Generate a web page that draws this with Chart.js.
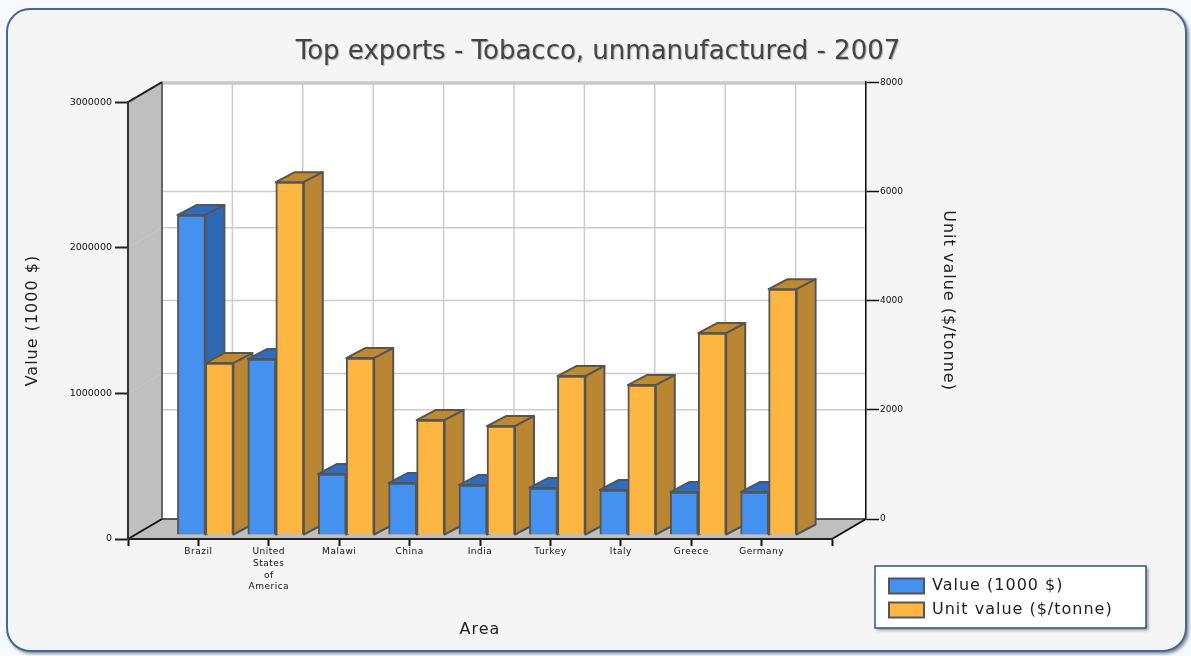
<!DOCTYPE html>
<html>
<head>
<meta charset="utf-8">
<title>Top exports</title>
<script src="https://cdn.jsdelivr.net/npm/chart.js@4"></script>
<style>
  html, body { margin: 0; padding: 0; background: #f6f9fd; }
  #page { position: relative; width: 1191px; height: 656px; overflow: hidden; }
  #card {
    position: absolute; left: 6px; top: 8px; width: 1177px; height: 640px;
    background: #f5f5f5; border: 2px solid #48688f; border-radius: 24px;
    box-shadow: 2px 2px 3px rgba(60, 80, 110, 0.6);
  }
  canvas { position: absolute; left: 0; top: 0; filter: blur(0.3px); }
</style>
</head>
<body>
<div id="page">
  <div id="card"></div>
  <canvas id="chart" width="1191" height="656"></canvas>
</div>
<script>
// the axis runs 0..10 with labels on the ticks, so first and last stay blank
var categories = ['', 'Brazil', ['United', 'States', 'of', 'America'], 'Malawi', 'China', 'India', 'Turkey', 'Italy', 'Greece', 'Germany', ''];
var valueSeries = [null, 2197000, 1208000, 419000, 357000, 343000, 323000, 309000, 295000, 295000, null];
var unitValueSeries = [null, 3149, 6462, 3240, 2105, 1995, 2911, 2746, 3698, 4503, null];

var font = 'DejaVu Sans';

// depth of the box and of the bars, in pixels
var wallDx = 34, wallDy = -20;
var barDx = 19, barDy = -10;
var barShiftX = 7, barShiftY = -4;

function poly(ctx, pts, fill, stroke, lw) {
    ctx.beginPath();
    ctx.moveTo(pts[0][0], pts[0][1]);
    for (var i = 1; i < pts.length; i++) ctx.lineTo(pts[i][0], pts[i][1]);
    ctx.closePath();
    if (fill) { ctx.fillStyle = fill; ctx.fill(); }
    if (stroke) { ctx.strokeStyle = stroke; ctx.lineWidth = lw; ctx.stroke(); }
}

function line(ctx, x1, y1, x2, y2, color, lw) {
    ctx.beginPath();
    ctx.moveTo(x1, y1);
    ctx.lineTo(x2, y2);
    ctx.strokeStyle = color;
    ctx.lineWidth = lw;
    ctx.stroke();
}

// the original text is wider than DejaVu at the same height
function spaced(chart, obj, name, px) {
    var orig = obj[name];
    obj[name] = function() {
        chart.ctx.save();
        chart.ctx.letterSpacing = px;
        orig.apply(obj, arguments);
        chart.ctx.restore();
    };
}

var box3d = {
    id: 'box3d',
    afterLayout: function(chart) {
        // right axis lives on the back wall
        var y1 = chart.scales.y1;
        y1.left += wallDx; y1.right += wallDx;
        y1.top += wallDy; y1.bottom += wallDy;
        y1.configure();

        // legend goes into its frame, bottom right
        var lg = chart.legend;
        lg.left = 881; lg.top = 570; lg.right = 1140; lg.bottom = 640;

        // title is centred on the whole card, not on the plot
        var tb = chart.titleBlock;
        tb.left = 0; tb.right = 1196;

        if (!chart.$wrapped) {
            chart.$wrapped = true;
            spaced(chart, lg, 'draw', '1px');
            spaced(chart, chart.scales.x, 'drawTitle', '1px');
            spaced(chart, chart.scales.y, 'drawTitle', '1px');
            spaced(chart, y1, 'drawTitle', '1px');
            spaced(chart, chart.scales.x, 'drawLabels', '0.5px');

            var drawTitle = tb.draw;
            tb.draw = function() {
                var ctx = chart.ctx;
                ctx.save();
                ctx.shadowColor = 'rgba(110, 110, 110, 0.5)';
                ctx.shadowOffsetX = 1;
                ctx.shadowOffsetY = 1;
                ctx.shadowBlur = 1;
                drawTitle.apply(tb, arguments);
                ctx.restore();
            };
        }
    },
    beforeDraw: function(chart) {
        var ctx = chart.ctx, a = chart.chartArea, s = chart.scales;
        var bl = a.left + wallDx, br = a.right + wallDx, bt = a.top + wallDy, bb = a.bottom + wallDy;
        ctx.save();

        ctx.fillStyle = '#ffffff';
        ctx.fillRect(bl, bt, br - bl, bb - bt);

        // back wall grid, both value axes and the categories
        s.y.ticks.forEach(function(t) {
            var p = s.y.getPixelForValue(t.value) + wallDy;
            line(ctx, bl, p, br, p, '#cccccc', 1.5);
        });
        s.y1.ticks.forEach(function(t) {
            var p = s.y1.getPixelForValue(t.value);
            line(ctx, bl, p, br, p, '#cccccc', 1.5);
        });
        s.x.ticks.forEach(function(t, i) {
            var p = s.x.getPixelForTick(i) + wallDx;
            line(ctx, p, bt, p, bb, '#cccccc', 1.5);
        });
        line(ctx, bl, bt + 1, br, bt + 1, '#c8c8c8', 3);

        // side wall and floor
        poly(ctx, [[a.left, a.top], [bl, bt], [bl, bb], [a.left, a.bottom]], '#bfbfbf');
        poly(ctx, [[a.left, a.bottom], [bl, bb], [br, bb], [a.right, a.bottom]], '#bfbfbf');
        s.y.ticks.forEach(function(t) {
            var p = s.y.getPixelForValue(t.value);
            if (t.value > 0 && t.value < 3000000) line(ctx, a.left, p, bl, p + wallDy, '#c9c9c9', 1);
        });

        line(ctx, bl, bt, bl, bb, '#444444', 1.5);
        line(ctx, bl, bb, br, bb, '#333333', 1.5);
        line(ctx, a.left, a.top, bl, bt, '#222222', 2);
        line(ctx, a.left, a.bottom, bl, bb, '#111111', 2);
        line(ctx, a.right, a.bottom, br, bb, '#111111', 2);

        // legend frame
        ctx.save();
        ctx.shadowColor = 'rgba(60, 60, 60, 0.6)';
        ctx.shadowOffsetX = 2;
        ctx.shadowOffsetY = 2;
        ctx.shadowBlur = 3;
        ctx.fillStyle = '#ffffff';
        ctx.fillRect(875, 566, 271, 62);
        ctx.restore();
        ctx.strokeStyle = '#2f5586';
        ctx.lineWidth = 1.5;
        ctx.strokeRect(875, 566, 271, 62);

        ctx.restore();
    },
    beforeDatasetsDraw: function(chart) {
        var ctx = chart.ctx;
        var metas = [chart.getDatasetMeta(0), chart.getDatasetMeta(1)];
        var faces = [
            { side: '#3069b3', top: '#2f6cc0' },
            { side: '#b98733', top: '#bd8a30' }
        ];
        // left to right, so nearer bars cover the depth of the ones before
        for (var i = 0; i < categories.length; i++) {
            metas.forEach(function(meta, m) {
                var el = meta.data[i];
                if (chart.data.datasets[m].data[i] === null) return;
                var scale = chart.scales[meta.yAxisID];
                var dy = chart.chartArea.bottom + barShiftY - scale.getPixelForValue(0);
                var x0 = el.x - el.width / 2, x1 = el.x + el.width / 2;
                ctx.save();
                ctx.translate(barShiftX, dy);
                ctx.lineJoin = 'round';
                poly(ctx, [[x0, el.y], [x0 + barDx, el.y + barDy], [x1 + barDx, el.y + barDy], [x1, el.y]], faces[m].top, '#555555', 2);
                poly(ctx, [[x1, el.y], [x1 + barDx, el.y + barDy], [x1 + barDx, el.base + barDy], [x1, el.base]], faces[m].side, '#555555', 2);
                el.draw(ctx);
                ctx.restore();
            });
        }
        return false;
    }
};

function plainNumber(v) {
    return String(v);
}

var chart = new Chart(document.getElementById('chart'), {
    type: 'bar',
    plugins: [box3d],
    data: {
        labels: categories,
        datasets: [{
            label: 'Value (1000 $)',
            data: valueSeries,
            yAxisID: 'y',
            backgroundColor: '#4591f0',
            borderColor: '#555555',
            borderWidth: 2,
            barThickness: 28
        }, {
            label: 'Unit value ($/tonne)',
            data: unitValueSeries,
            yAxisID: 'y1',
            backgroundColor: '#fdb642',
            borderColor: '#555555',
            borderWidth: 2,
            barThickness: 28
        }]
    },
    options: {
        responsive: false,
        animation: false,
        events: [],
        layout: { padding: { left: 0, top: 0, right: 259, bottom: 0 } },
        plugins: {
            tooltip: { enabled: false },
            title: {
                display: true,
                text: 'Top exports - Tobacco, unmanufactured - 2007',
                color: '#444444',
                font: { family: font, size: 26, weight: 'normal', lineHeight: 1.2 },
                padding: { top: 37, bottom: 34 }
            },
            legend: {
                position: 'chartArea',
                align: 'start',
                labels: {
                    color: '#222222',
                    font: { family: font, size: 16 },
                    boxWidth: 35,
                    boxHeight: 15,
                    padding: 8
                }
            }
        },
        scales: {
            x: {
                type: 'category',
                offset: false,
                afterFit: function(s) { s.height = 117; },
                grid: { display: true, drawOnChartArea: false, offset: false, tickLength: 7, tickColor: '#111111', tickWidth: 2 },
                border: { color: '#222222', width: 2 },
                ticks: { autoSkip: false, maxRotation: 0, minRotation: 0, padding: 0, color: '#111111', font: { family: font, size: 9, lineHeight: 1.3 } },
                title: { display: true, text: 'Area', color: '#222222', font: { family: font, size: 16 }, padding: { top: 0, bottom: 17 } }
            },
            y: {
                position: 'left',
                min: 0,
                max: 3000000,
                afterFit: function(s) { s.width = 128; },
                grid: { display: true, drawOnChartArea: false, tickLength: 13, tickColor: '#222222', tickWidth: 2 },
                border: { color: '#333333', width: 2 },
                ticks: { stepSize: 1000000, padding: 3, color: '#111111', font: { family: font, size: 9.5 }, callback: plainNumber },
                title: { display: true, text: 'Value (1000 $)', color: '#222222', font: { family: font, size: 16 }, padding: { top: 23, bottom: 0 } }
            },
            y1: {
                position: 'right',
                min: 0,
                max: 8000,
                afterFit: function(s) { s.width = 100; },
                grid: { display: true, drawOnChartArea: false, tickLength: 13, tickColor: '#111111', tickWidth: 1.5 },
                border: { color: '#111111', width: 1.5 },
                ticks: { stepSize: 2000, padding: 1, color: '#111111', font: { family: font, size: 9 }, callback: plainNumber },
                title: { display: true, text: 'Unit value ($/tonne)', color: '#222222', font: { family: font, size: 16 }, padding: { top: 8, bottom: 0 } }
            }
        }
    }
});
</script>
</body>
</html>
